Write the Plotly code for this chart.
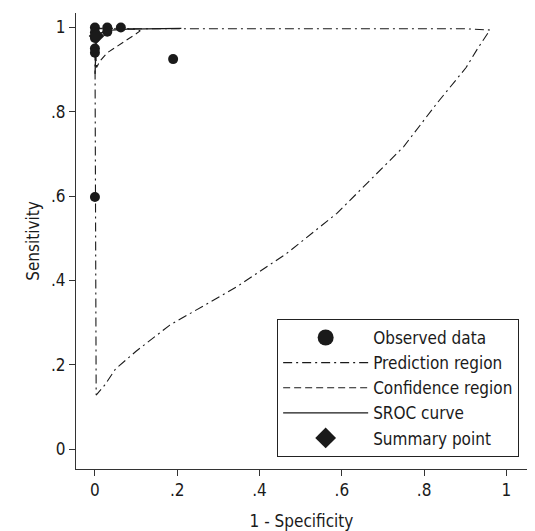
import plotly.graph_objects as go

# Observed study points (1 - specificity, sensitivity)
obs_fpr = [0.0, 0.03, 0.063, 0.0, 0.03, 0.0, 0.0, 0.0, 0.19, 0.0]
obs_sens = [1.0, 1.0, 1.0, 0.988, 0.99, 0.975, 0.95, 0.94, 0.925, 0.598]

# Prediction region contour
pred_fpr = [0.0, 0.3, 0.6, 0.9, 0.96, 0.93, 0.902, 0.831, 0.75, 0.669, 0.588,
            0.466, 0.345, 0.182, 0.1, 0.05, 0.024, 0.003, 0.002, 0.001, 0.0]
pred_sens = [0.997, 0.997, 0.997, 0.997, 0.994, 0.95, 0.905, 0.82, 0.717, 0.638, 0.559,
             0.464, 0.385, 0.294, 0.232, 0.19, 0.152, 0.128, 0.5, 0.9, 0.997]

# Confidence region contour
conf_fpr = [0.0, 0.05, 0.1, 0.11, 0.1, 0.066, 0.03, 0.012, 0.004, 0.001, 0.0]
conf_sens = [0.998, 0.998, 0.996, 0.992, 0.985, 0.963, 0.94, 0.92, 0.905, 0.95, 0.998]

# SROC curve
sroc_fpr = [0.0003, 0.001, 0.003, 0.01, 0.03, 0.08, 0.21]
sroc_sens = [0.89, 0.94, 0.97, 0.985, 0.993, 0.996, 0.998]

# Summary point
sum_fpr = [0.004]
sum_sens = [0.98]

x_ticks = [0, 0.2, 0.4, 0.6, 0.8, 1]
x_labels = ["0", ".2", ".4", ".6", ".8", "1"]
y_ticks = [0, 0.2, 0.4, 0.6, 0.8, 1]
y_labels = ["0", ".2", ".4", ".6", ".8", "1"]

ink = "#1a1a1a"
font_family = "DejaVu Sans Condensed, Liberation Sans Narrow, Arial Narrow, sans-serif"

fig = go.Figure()
fig.add_trace(go.Scatter(x=pred_fpr, y=pred_sens, mode="lines", name="Prediction region",
                         line=dict(color=ink, width=1.1, dash="9px,4px,2px,4px"), legendrank=2))
fig.add_trace(go.Scatter(x=conf_fpr, y=conf_sens, mode="lines", name="Confidence region",
                         line=dict(color=ink, width=1.1, dash="7px,4px"), legendrank=3))
fig.add_trace(go.Scatter(x=sroc_fpr, y=sroc_sens, mode="lines", name="SROC curve",
                         line=dict(color=ink, width=1.3), legendrank=4))
fig.add_trace(go.Scatter(x=obs_fpr, y=obs_sens, mode="markers", name="Observed data",
                         marker=dict(color=ink, size=10, symbol="circle"), showlegend=False))
fig.add_trace(go.Scatter(x=sum_fpr, y=sum_sens, mode="markers", name="Summary point",
                         marker=dict(color=ink, size=12, symbol="diamond"), showlegend=False))
# legend-only entries with larger symbols (no data drawn)
fig.add_trace(go.Scatter(x=[None], y=[None], mode="markers", name="Observed data",
                         marker=dict(color=ink, size=20, symbol="circle"), legendrank=1))
fig.add_trace(go.Scatter(x=[None], y=[None], mode="markers", name="Summary point",
                         marker=dict(color=ink, size=18, symbol="diamond"), legendrank=5))

axis_common = dict(showgrid=False, zeroline=False, showline=True, linecolor="#333333",
                   linewidth=1, ticks="outside", ticklen=6, tickcolor="#333333",
                   automargin=False,
                   tickfont=dict(family=font_family, size=17, color=ink),
                   title_font=dict(family=font_family, size=17, color=ink))

fig.update_xaxes(range=[-0.046, 1.05], tickvals=x_ticks, ticktext=x_labels,
                 title_text="1 - Specificity", title_standoff=15, **axis_common)
fig.update_yaxes(range=[-0.0474, 1.0344], tickvals=y_ticks, ticktext=y_labels,
                 title_text="Sensitivity", title_standoff=7, **axis_common)

fig.update_layout(
    width=535, height=531,
    margin=dict(l=68, r=16, t=5, b=70, autoexpand=False),
    paper_bgcolor="white", plot_bgcolor="white",
    font=dict(family=font_family, size=17, color=ink),
    legend=dict(x=0.446, y=0.329, xanchor="left", yanchor="top",
                bordercolor="#222222", borderwidth=1, bgcolor="white",
                font=dict(family=font_family, size=17, color=ink),
                tracegroupgap=0, itemwidth=85),
)

fig.write_html("out.html")
